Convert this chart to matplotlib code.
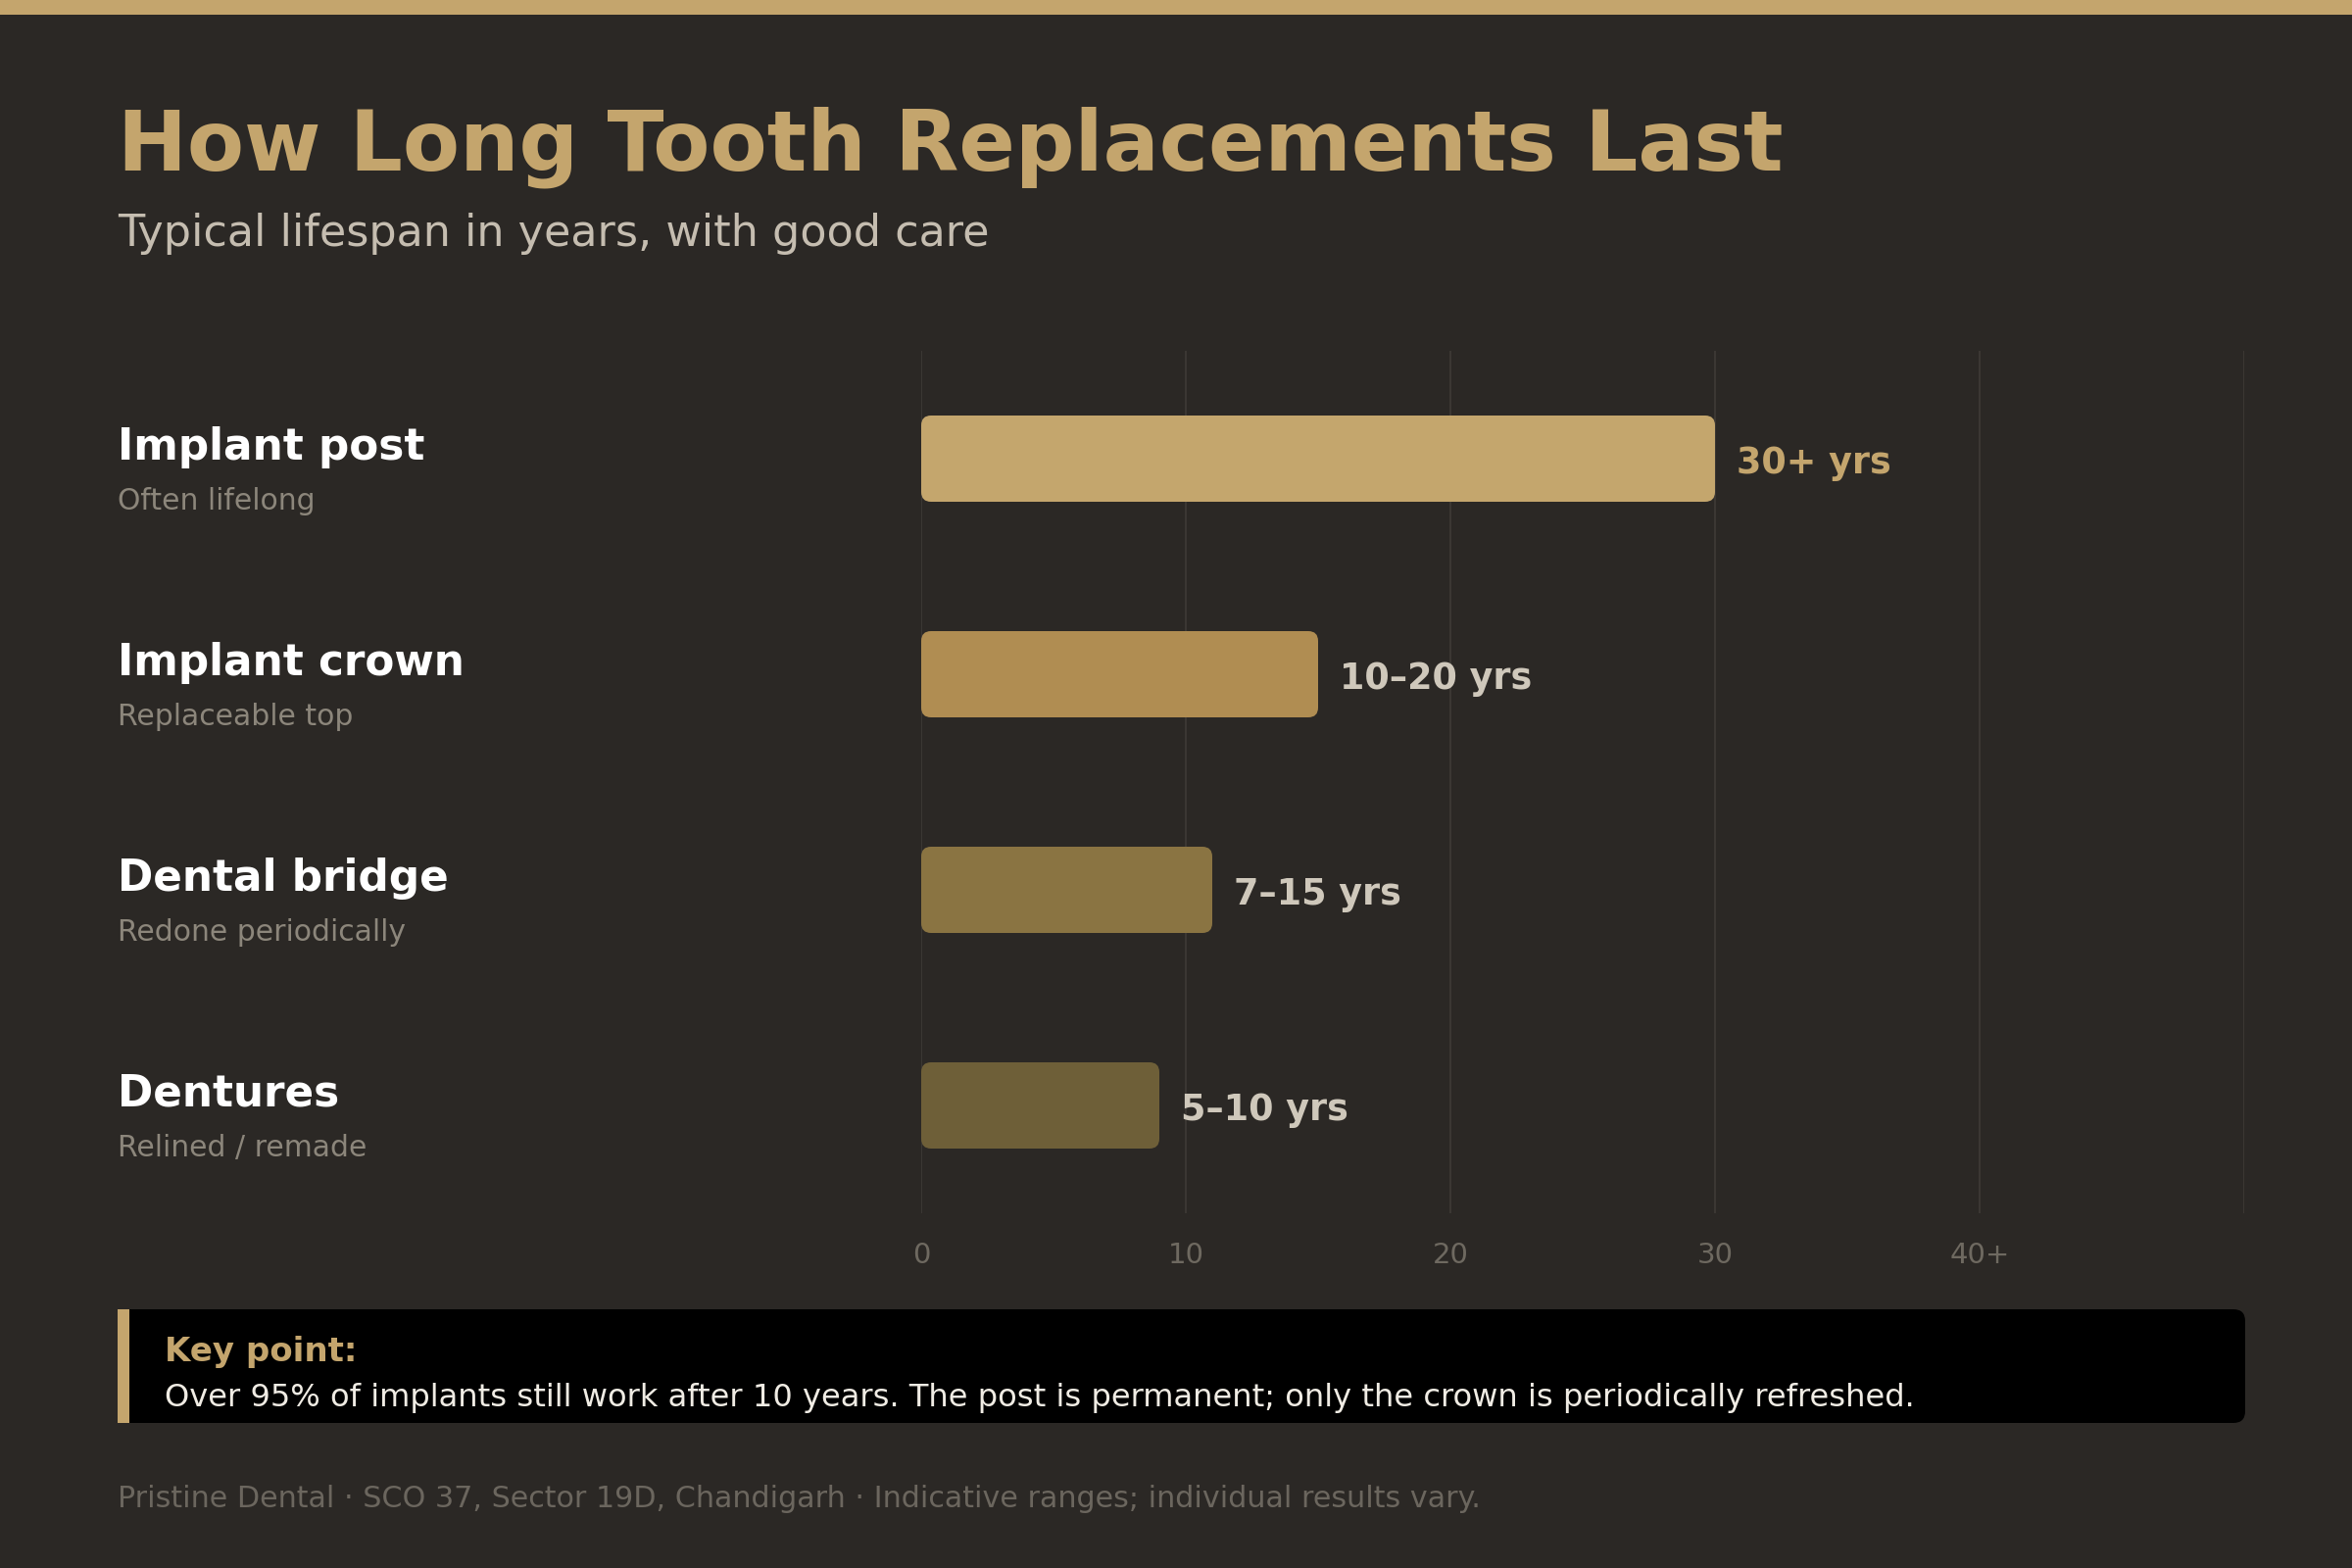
import matplotlib
matplotlib.use("Agg")
import matplotlib.pyplot as plt
from matplotlib.patches import FancyBboxPatch, Rectangle

plt.rcParams['font.family'] = ['DejaVu Sans']

# ---- data ----
categories = ["Implant post", "Implant crown", "Dental bridge", "Dentures"]
sublabels = ["Often lifelong", "Replaceable top", "Redone periodically", "Relined / remade"]
values = [30, 15, 11, 9]
value_labels = ["30+ yrs", "10\u201320 yrs", "7\u201315 yrs", "5\u201310 yrs"]
tick_values = [0, 10, 20, 30, 40]
tick_labels = ["0", "10", "20", "30", "40+"]
grid_values = [0, 10, 20, 30, 40, 50]

title = "How Long Tooth Replacements Last"
subtitle = "Typical lifespan in years, with good care"
key_head = "Key point:"
key_body = ("Over 95% of implants still work after 10 years. The post is permanent; "
            "only the crown is periodically refreshed.")
footer = ("Pristine Dental \u00b7 SCO 37, Sector 19D, Chandigarh \u00b7 "
          "Indicative ranges; individual results vary.")

# ---- style ----
BG = "#2b2825"
GOLD = "#c4a56d"
bar_colors = ["#c4a66d", "#b08d52", "#8a7442", "#6e5f38"]
label_colors = [GOLD, "#cfc8bb", "#cfc8bb", "#cfc8bb"]
GRID = "#3b3733"
TICK = "#6e6960"

W, H = 2400, 1600
DPI = 100
fig = plt.figure(figsize=(W / DPI, H / DPI), dpi=DPI, facecolor=BG)


def fx(px):
    return px / W


def fy(py):
    return 1 - py / H


# top accent strip
fig.patches.append(Rectangle((0, fy(15)), 1, 15 / H, transform=fig.transFigure,
                             facecolor=GOLD, edgecolor="none", zorder=0))

fig.text(fx(120), fy(173), title, fontsize=61, fontweight="bold", color=GOLD,
         ha="left", va="baseline")
fig.text(fx(120), fy(251), subtitle, fontsize=32, color="#c5bdb0",
         ha="left", va="baseline")

# axes
ax_l, ax_r, ax_t, ax_b = 940, 2290, 358, 1238
ax = fig.add_axes([fx(ax_l), fy(ax_b), (ax_r - ax_l) / W, (ax_b - ax_t) / H])
ax.set_facecolor("none")
ax.set_xlim(0, 50)
ax.set_ylim(len(categories) - 0.5, -0.5)
for s in ax.spines.values():
    s.set_visible(False)

for g in grid_values:
    ax.axvline(g, color=GRID, linewidth=1.5, zorder=0)

ax.set_xticks(tick_values)
ax.set_xticklabels(tick_labels)
ax.tick_params(axis="x", length=0, pad=21, labelsize=21, labelcolor=TICK)
ax.set_yticks([])

px_per_x = (ax_r - ax_l) / 50
px_per_y = (ax_b - ax_t) / len(categories)
aspect = px_per_x / px_per_y
radius_px = 10
bar_h = 0.4

for i, (v, c) in enumerate(zip(values, bar_colors)):
    p = FancyBboxPatch((0, i - bar_h / 2), v, bar_h,
                       boxstyle=f"round,pad=0,rounding_size={radius_px / px_per_x}",
                       mutation_aspect=aspect,
                       facecolor=c, edgecolor="none", zorder=2)
    ax.add_patch(p)
    ax.annotate(value_labels[i], xy=(v, i), xytext=(15.5, -10.6),
                textcoords="offset points", ha="left", va="baseline",
                fontsize=26.3, fontweight="bold", color=label_colors[i],
                annotation_clip=False)
    ax.annotate(categories[i], xy=(fx(120), i), xycoords=("figure fraction", "data"),
                xytext=(0, -0.6), textcoords="offset points", ha="left",
                va="baseline", fontsize=31.5, fontweight="bold", color="#ffffff",
                annotation_clip=False)
    ax.annotate(sublabels[i], xy=(fx(120), i), xycoords=("figure fraction", "data"),
                xytext=(0, -37.4), textcoords="offset points", ha="left",
                va="baseline", fontsize=21.5, color="#8c867b",
                annotation_clip=False)

# key point box
box_l, box_r, box_t, box_b = 120, 2291, 1336, 1452
fig.patches.append(FancyBboxPatch((fx(box_l), fy(box_b)), (box_r - box_l) / W,
                                  (box_b - box_t) / H,
                                  boxstyle=f"round,pad=0,rounding_size={12 / W}",
                                  mutation_aspect=W / H,
                                  transform=fig.transFigure, facecolor="#000000",
                                  edgecolor="none", zorder=1))
fig.patches.append(Rectangle((fx(box_l), fy(box_b)), 12 / W, (box_b - box_t) / H,
                             transform=fig.transFigure, facecolor=GOLD,
                             edgecolor="none", zorder=2))
fig.text(fx(168), fy(1389), key_head, fontsize=24.5, fontweight="bold", color=GOLD,
         ha="left", va="baseline", zorder=3)
fig.text(fx(168), fy(1435), key_body, fontsize=23.1, color="#f0ece4",
         ha="left", va="baseline", zorder=3)

fig.text(fx(120), fy(1538), footer, fontsize=21.7, color="#6b665e",
         ha="left", va="baseline")

fig.savefig("out.png", dpi=DPI, facecolor=BG)
